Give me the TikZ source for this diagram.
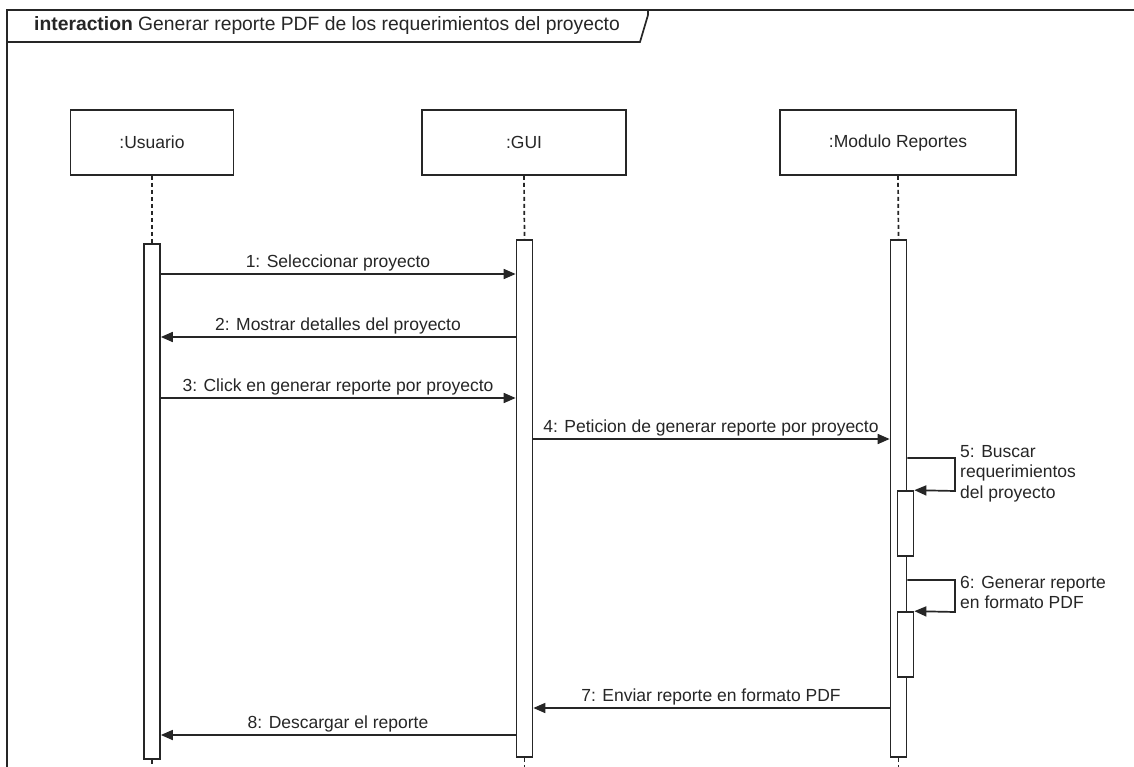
\documentclass[tikz,border=0pt]{standalone}
\usepackage{fontspec}
\setmainfont{Liberation Sans}
\usetikzlibrary{arrows.meta}
\definecolor{ink}{HTML}{262626}
\begin{document}
\begin{tikzpicture}[x=1pt,y=-1pt,
  font=\fontsize{17.5}{20.5}\selectfont,
  every node/.style={text=ink},
  ln/.style={draw=ink, line width=1.7pt},
  headbox/.style={ln, fill=white, minimum height=65pt, inner sep=0pt},
  bar/.style={ln, fill=white, minimum width=16pt, inner sep=0pt},
  life/.style={draw=ink, line width=1.7pt, dash pattern=on 4pt off 3pt},
  msg/.style={draw=ink, line width=1.7pt, -{Triangle[length=12pt,width=10pt]}},
  lbl/.style={anchor=base, inner sep=0pt},
  selflbl/.style={anchor=north west, inner sep=0pt, align=left},
]
\clip (0,0) rectangle (1134,767);
\fill[white] (0,0) rectangle (1134,767);

% interaction frame
\draw[ln] (7,770) -- (7,10) -- (1140,10);
\draw[ln] (7,42) -- (640,42) -- (648,15) -- (648,10);
\node[anchor=west, inner sep=0pt, font=\fontsize{19.3}{22}\selectfont] (title) at (34,26)
  {\textbf{interaction} Generar reporte PDF de los requerimientos del proyecto};

% lifeline heads
\node[headbox, minimum width=163pt] (usr) at (152,142.5) {:Usuario};
\node[headbox, minimum width=204pt] (gui) at (524,142.5) {:GUI};
\node[headbox, minimum width=236pt] (mod) at (898,142.5) {:Modulo Reportes};

% activation bars
\node[bar, minimum height=515pt] (uA) at (152,501.5) {};
\node[bar, minimum height=517pt] (gA) at (524.5,498.5) {};
\node[bar, minimum height=517pt] (mA) at (898.5,498.5) {};
\node[bar, minimum height=65pt] (s1) at (905.5,523.5) {};
\node[bar, minimum height=65pt] (s2) at (905.5,644.5) {};

% dashed lifelines
\draw[life] (usr.south) -- (uA.north);
\draw[life] (gui.south) -- (gA.north);
\draw[life] (mod.south) -- (mA.north);
\coordinate (uEnd) at (152,770);
\coordinate (gEnd) at (524.5,770);
\coordinate (mEnd) at (898.5,770);
\draw[life] (uA.south) -- (uEnd);
\draw[life] (gA.south) -- (gEnd);
\draw[life] (mA.south) -- (mEnd);

% messages
\draw[msg] (uA.east |- 0,274) -- (gA.west |- 0,274);
\node[lbl] at (338,267) {1: Seleccionar proyecto};

\draw[msg] (gA.west |- 0,337) -- (uA.east |- 0,337);
\node[lbl] at (338,330) {2: Mostrar detalles del proyecto};

\draw[msg] (uA.east |- 0,398) -- (gA.west |- 0,398);
\node[lbl] at (338,391) {3: Click en generar reporte por proyecto};

\draw[msg] (gA.east |- 0,439) -- (mA.west |- 0,439);
\node[lbl] at (711,432) {4: Peticion de generar reporte por proyecto};

\draw[msg] (mA.east |- 0,458) -- (955,458) -- (955,491) -- (s1.north east);
\node[selflbl] at (960,445) {5: Buscar\\requerimientos\\del proyecto};

\draw[msg] (mA.east |- 0,580) -- (955,580) -- (955,612) -- (s2.north east);
\node[selflbl] at (960,576) {6: Generar reporte\\en formato PDF};

\draw[msg] (mA.west |- 0,708) -- (gA.east |- 0,708);
\node[lbl] at (711,701) {7: Enviar reporte en formato PDF};

\draw[msg] (gA.west |- 0,735) -- (uA.east |- 0,735);
\node[lbl] at (338,728) {8: Descargar el reporte};
\end{tikzpicture}
\end{document}
